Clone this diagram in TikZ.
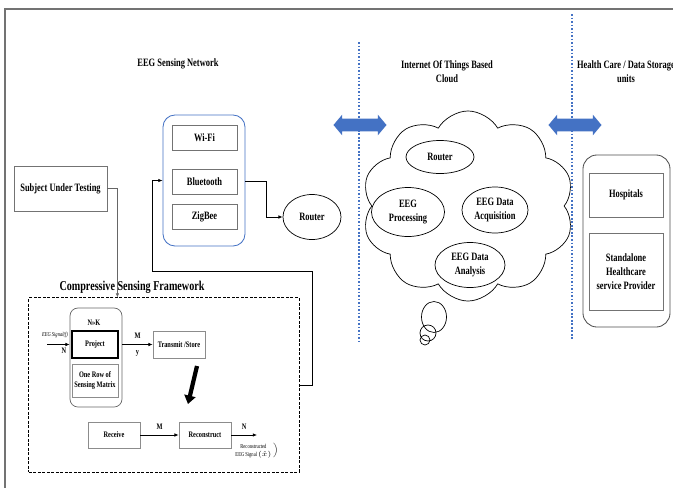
\documentclass[tikz,border=0pt]{standalone}
\usepackage{amsmath}
\usepackage{fontspec}
\setmainfont{Liberation Serif}[FakeStretch=0.75]
\usetikzlibrary{positioning, arrows.meta, calc, shapes.geometric, shapes.symbols, shapes.arrows}

\definecolor{linkblue}{RGB}{68,114,196}

\begin{document}
\begin{tikzpicture}[x=0.025cm, y=-0.025cm,
    every node/.style={font=\bfseries\fontsize{8}{10}\selectfont, align=center},
    box/.style={draw=black!55, line width=0.6pt, inner sep=0pt, minimum width=1.625cm, minimum height=0.625cm},
    smallbox/.style={draw=black!45, line width=0.5pt, inner sep=0pt, minimum width=1.3cm, minimum height=0.675cm, font=\bfseries\fontsize{6}{7.5}\selectfont},
    blob/.style={ellipse, draw, line width=0.5pt, inner sep=0pt},
    note/.style={font=\bfseries\fontsize{6}{7.5}\selectfont, inner sep=1pt},
    link/.style={line width=0.5pt, -{Latex[length=3pt,width=2.5pt]}},
    xarrow/.style={double arrow, fill=linkblue, inner xsep=0pt, inner ysep=0.15cm, minimum height=1.325cm, double arrow head extend=0.1cm, double arrow tip angle=100},
    divider/.style={linkblue, line width=1.2pt, dash pattern=on 1.2pt off 1.3pt}
    ]
    \useasboundingbox (0,0) rectangle (673,488);
    \clip (0,0) rectangle (673,488);

    % page frame
    \draw[black!55, line width=1.6pt] (5,488) -- (5,9) -- (673,9);

    % section dividers and titles
    \draw[divider] (359,42) -- (359,342);
    \draw[divider] (572,14) -- (572,340);
    \node (tsn) at (178,64) {EEG Sensing Network};
    \node (tiot) at (447,72) {Internet Of Things Based\\Cloud};
    \node (thc) at (626,72) {Health Care / Data Storage\\units};
    \node[xarrow] (xa) at (360,125) {};
    \node[xarrow] (xb) at (575,125) {};

    % sensing network
    \node[box, minimum width=2.325cm, minimum height=1.125cm] (sut) at (60.5,188.5) {Subject Under Testing};
    \node[draw=linkblue, rounded corners=0.3cm, line width=0.6pt, minimum width=2.05cm, minimum height=3.275cm] (wl) at (204,180.5) {};
    \node[box] (wifi) at (204.5,138) {Wi-Fi};
    \node[box] (bt) at (204.5,181.5) {Bluetooth};
    \node[box] (zb) at (204.5,216.5) {ZigBee};
    \node[blob, minimum width=1.45cm, minimum height=1.125cm] (router) at (312,217) {Router};
    \draw[link] (bt.east -| wl.east) -- ++(21,0) |- (router.west);

    % compressive sensing framework
    \node[draw, line width=0.7pt, dash pattern=on 2pt off 1.2pt, minimum width=6.75cm, minimum height=4.35cm] (csf) at (164,385) {};
    \node[font=\bfseries\fontsize{9.6}{11}\selectfont] (tcsf) at (132,287) {Compressive Sensing Framework};
    \draw[link, black!60] (sut.east) -- ++(10,0) coordinate (drop) -- (drop |- csf.north);
    \draw[link] (csf.east) -- ++(13,0) |- (152,271) |- (wl.west);

    \node[draw=black!60, rounded corners=0.2cm, line width=0.5pt, minimum width=1.3cm, minimum height=2.475cm] (csm) at (96,357.5) {};
    \node[note] (nk) at (94,323) {N>>K};
    \node[smallbox, draw=black, line width=1pt, minimum width=1.15cm] (proj) at (95,344.5) {Project};
    \node[smallbox, minimum width=1.15cm, minimum height=0.825cm] (row) at (95,380.5) {One Row of\\Sensing Matrix};
    \node[smallbox] (tx) at (179,344.5) {Transmit /Store};
    \node[smallbox, minimum height=0.65cm] (recv) at (114,435) {Receive};
    \node[smallbox, minimum height=0.65cm] (rec) at (205,435) {Reconstruct};
    \coordinate (sig) at (47,344.5);
    \coordinate (out) at (257,435);
    \coordinate (dn1) at (197,366);
    \coordinate (dn2) at (188,404);
    \draw[link] (sig) -- (sig -| csm.west)
        node[pos=0.35, above=1pt, font=\itshape\fontsize{4.3}{5}\selectfont] {EEG Signal(f)}
        node[pos=0.75, below=1pt, note] {N};
    \draw[link] (proj.east -| csm.east) -- (tx.west)
        node[midway, above=3pt, note] {M}
        node[midway, below=3pt, note] {y};
    \draw[line width=3pt, -{Triangle[length=6pt,width=8pt]}] (dn1) -- (dn2);
    \draw[link] (recv) -- (rec) node[midway, above=3pt, note] {M};
    \draw[link] (rec) -- (out) node[midway, above=3pt, note] {N};
    \node[anchor=north, inner sep=0pt, font=\fontsize{4.3}{5.4}\selectfont] (rlab) at (256,443)
        {$\left.\begin{tabular}{@{}c@{}}Reconstructed\\EEG Signal $(\hat{x})$\end{tabular}\,\right)$};

    % IoT cloud
    \draw[line width=0.5pt] (434,317) ellipse [x radius=12.5, y radius=15.5];
    \draw[line width=0.5pt] (428,333) circle [radius=8];
    \draw[line width=0.5pt] (425,340) circle [radius=5];
    \node[cloud, draw, fill=white, cloud puffs=10, cloud puff arc=120, line width=0.5pt, minimum width=5.3cm, minimum height=4.75cm] (cloud) at (468,206) {};
    \node[blob, minimum width=1.7cm, minimum height=0.825cm] (crt) at (440,157) {Router};
    \node[blob, minimum width=1.825cm, minimum height=1.225cm] (cproc) at (408,212) {EEG\\Processing};
    \node[blob, minimum width=1.65cm, minimum height=1.15cm] (cacq) at (495,210) {EEG Data\\Acquisition};
    \node[blob, minimum width=1.75cm, minimum height=1.125cm] (cana) at (470,265) {EEG Data\\Analysis};

    % health care units
    \node[draw=black!70, rounded corners=0.35cm, line width=0.6pt, minimum width=2.175cm, minimum height=4.3cm] (hcu) at (626.5,241) {};
    \node[box, minimum width=1.85cm, minimum height=1.1cm] (hosp) at (626,195) {Hospitals};
    \node[box, minimum width=1.85cm, minimum height=1.925cm] (sa) at (626,271.5) {Standalone\\Healthcare\\service Provider};
\end{tikzpicture}
\end{document}
